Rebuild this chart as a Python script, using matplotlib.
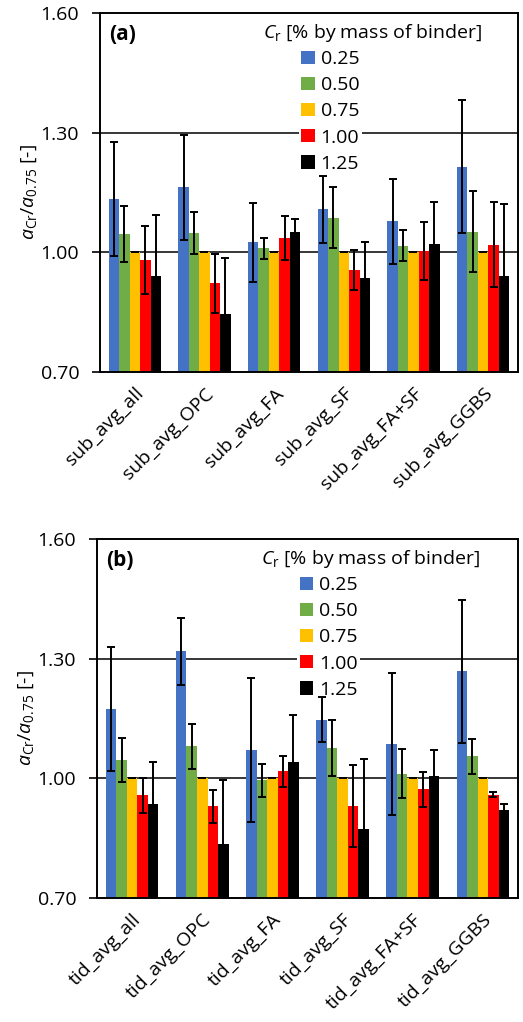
import matplotlib
matplotlib.use("Agg")
import numpy as np
import matplotlib.pyplot as plt

plt.rcParams['font.family'] = ['Open Sans', 'DejaVu Sans']
plt.rcParams['mathtext.fontset'] = 'custom'
plt.rcParams['mathtext.rm'] = 'Open Sans'
plt.rcParams['mathtext.it'] = 'Open Sans:italic'

levels = ['0.25', '0.50', '0.75', '1.00', '1.25']
colors = ['#4472C4', '#70AD47', '#FFC000', '#FF0000', '#000000']

groups_sub = ['sub_avg_all', 'sub_avg_OPC', 'sub_avg_FA', 'sub_avg_SF', 'sub_avg_FA+SF', 'sub_avg_GGBS']
groups_tid = ['tid_avg_all', 'tid_avg_OPC', 'tid_avg_FA', 'tid_avg_SF', 'tid_avg_FA+SF', 'tid_avg_GGBS']

# (a) submerged: ratio per Cr level, one list per group
sub_025 = [1.134, 1.163, 1.025, 1.108, 1.078, 1.215]
sub_050 = [1.045, 1.048, 1.010, 1.087, 1.017, 1.052]
sub_075 = [1.000, 1.000, 1.000, 1.000, 1.000, 1.000]
sub_100 = [0.981, 0.922, 1.036, 0.955, 1.003, 1.019]
sub_125 = [0.941, 0.846, 1.051, 0.935, 1.022, 0.941]

sub_err_025 = [0.142, 0.132, 0.099, 0.084, 0.106, 0.166]
sub_err_050 = [0.070, 0.053, 0.026, 0.076, 0.039, 0.102]
sub_err_075 = [0.0, 0.0, 0.0, 0.0, 0.0, 0.0]
sub_err_100 = [0.085, 0.075, 0.054, 0.050, 0.073, 0.106]
sub_err_125 = [0.152, 0.141, 0.032, 0.090, 0.103, 0.180]

# (b) tidal
tid_025 = [1.174, 1.318, 1.071, 1.147, 1.086, 1.268]
tid_050 = [1.047, 1.080, 0.995, 1.075, 1.012, 1.055]
tid_075 = [1.000, 1.000, 1.000, 1.000, 1.000, 1.000]
tid_100 = [0.958, 0.930, 1.018, 0.930, 0.973, 0.959]
tid_125 = [0.936, 0.836, 1.042, 0.874, 1.006, 0.921]

tid_err_025 = [0.155, 0.085, 0.181, 0.057, 0.179, 0.179]
tid_err_050 = [0.055, 0.057, 0.042, 0.070, 0.062, 0.043]
tid_err_075 = [0.0, 0.0, 0.0, 0.0, 0.0, 0.0]
tid_err_100 = [0.044, 0.042, 0.039, 0.103, 0.044, 0.007]
tid_err_125 = [0.106, 0.161, 0.118, 0.174, 0.066, 0.014]

FS = 14


def draw_panel(ax, groups, series, errors, tag):
    x = np.arange(len(groups))
    w = 0.15
    ax.axhline(1.0, color='black', lw=1.1, zorder=0)
    ax.axhline(1.3, color='black', lw=1.1, zorder=0)
    for i in range(len(levels)):
        ax.bar(x + (i - 2) * w, series[i], w, bottom=0, color=colors[i],
               label=levels[i], zorder=2)
        ax.errorbar(x + (i - 2) * w, series[i], yerr=errors[i], fmt='none',
                    ecolor='black', elinewidth=1.4, capsize=3, capthick=1.4, zorder=3)
    ax.set_xlim(-0.5, len(groups) - 0.5)
    ax.set_ylim(0.70, 1.60)
    ax.set_yticks([0.70, 1.00, 1.30, 1.60])
    ax.set_yticklabels(['0.70', '1.00', '1.30', '1.60'], fontsize=FS)
    ax.set_xticks(x)
    ax.set_xticklabels(groups, rotation=45, ha='right', rotation_mode='anchor', fontsize=FS)
    ax.tick_params(axis='x', length=0, pad=9)
    ax.tick_params(axis='y', length=6, width=1.2, direction='out', pad=9)
    for s in ax.spines.values():
        s.set_linewidth(1.4)
    ax.set_ylabel(r'$a_{\mathrm{Cr}}/a_{0.75}$ [-]', fontsize=FS, labelpad=1)
    ax.text(0.022, 0.94, tag, transform=ax.transAxes, fontsize=FS + 1,
            fontweight='bold', va='center', ha='left')
    ax.text(0.39, 0.944, r'$C_{\mathrm{r}}$ [% by mass of binder]', transform=ax.transAxes,
            fontsize=FS, va='center', ha='left')
    leg = ax.legend(loc='upper left', bbox_to_anchor=(0.475, 0.905), frameon=True,
                    fontsize=FS, handlelength=0.68, handleheight=0.68,
                    handletextpad=0.3, labelspacing=0.42, borderpad=0.15,
                    borderaxespad=0, edgecolor='none', framealpha=1.0,
                    fancybox=False)
    leg.set_zorder(1)


fig = plt.figure(figsize=(5.23, 10.22), dpi=100)
ax1 = fig.add_axes([100 / 523, 1 - 372 / 1022, 418 / 523, 359 / 1022])
ax2 = fig.add_axes([97 / 523, 1 - 898 / 1022, 421 / 523, 359 / 1022])

draw_panel(ax1, groups_sub,
           [sub_025, sub_050, sub_075, sub_100, sub_125],
           [sub_err_025, sub_err_050, sub_err_075, sub_err_100, sub_err_125], '(a)')
draw_panel(ax2, groups_tid,
           [tid_025, tid_050, tid_075, tid_100, tid_125],
           [tid_err_025, tid_err_050, tid_err_075, tid_err_100, tid_err_125], '(b)')

fig.savefig('out.png', dpi=100)
